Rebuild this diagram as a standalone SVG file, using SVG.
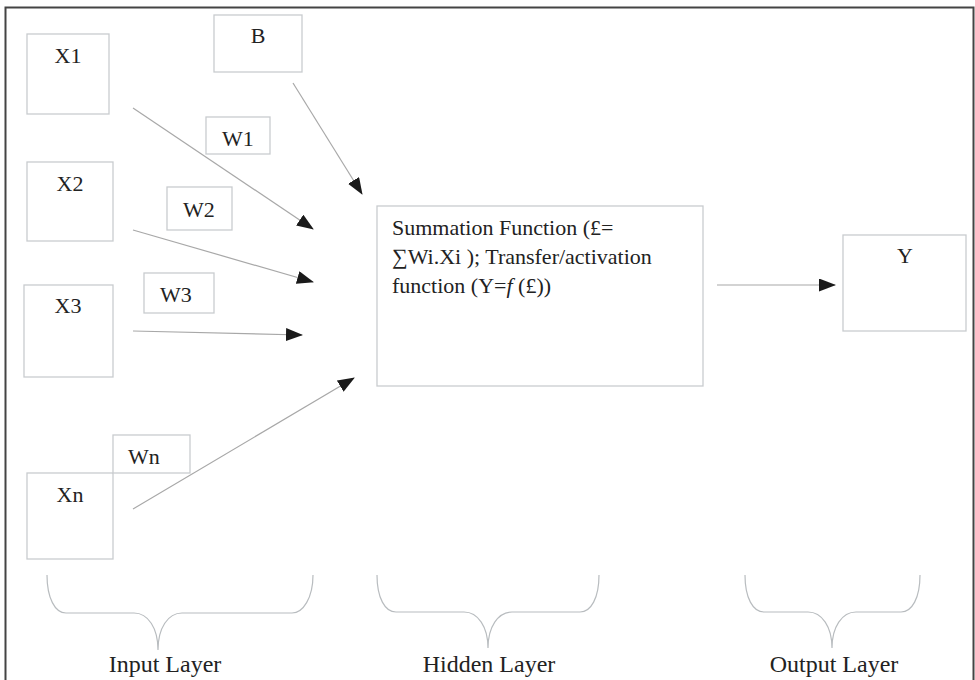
<svg xmlns="http://www.w3.org/2000/svg" width="975" height="680" viewBox="0 0 975 680">
<defs>
<marker id="ah" markerUnits="userSpaceOnUse" markerWidth="17" markerHeight="13" refX="16" refY="6.5" orient="auto">
<path d="M0,0 L17,6.5 L0,13 Z" fill="#1a1a1a"/>
</marker>
<style>
.box{fill:#fff;stroke:#c9cccf;stroke-width:1.3}
.t{fill:#222;font-size:22px}
.c{stroke:#a8a8a8;stroke-width:1.2;fill:none}
.br{stroke:#b8bcbf;stroke-width:1.2;fill:none}
.lab{fill:#222;font-size:24px;text-anchor:middle}
</style>
</defs>
<rect x="0" y="0" width="975" height="680" fill="#fff"/>
<rect x="5.5" y="7.5" width="968" height="690" fill="none" stroke="#444" stroke-width="2"/>

<g id="connectors">
<line class="c" x1="133" y1="108" x2="313" y2="229" marker-end="url(#ah)"/>
<line class="c" x1="293" y1="83" x2="362" y2="194" marker-end="url(#ah)"/>
<line class="c" x1="133" y1="230" x2="313" y2="282" marker-end="url(#ah)"/>
<line class="c" x1="133" y1="331" x2="302" y2="335" marker-end="url(#ah)"/>
<line class="c" x1="133" y1="509" x2="354" y2="378" marker-end="url(#ah)"/>
<line class="c" x1="717" y1="285" x2="835" y2="285" marker-end="url(#ah)"/>
</g>

<g font-family="'Liberation Serif', 'Times New Roman', 'DejaVu Serif', serif">
<g id="X1"><rect class="box" x="27" y="34" width="82" height="80"/><text class="t" x="68" y="63" text-anchor="middle">X1</text></g>
<g id="B"><rect class="box" x="214" y="15" width="88" height="57"/><text class="t" x="258" y="43" text-anchor="middle">B</text></g>
<g id="W1"><rect class="box" x="206" y="117" width="64" height="37"/><text class="t" x="238" y="146" text-anchor="middle">W1</text></g>
<g id="X2"><rect class="box" x="27" y="162" width="86" height="79"/><text class="t" x="70" y="191" text-anchor="middle">X2</text></g>
<g id="W2"><rect class="box" x="167" y="187" width="65" height="43"/><text class="t" x="199" y="217" text-anchor="middle">W2</text></g>
<g id="X3"><rect class="box" x="24" y="285" width="89" height="92"/><text class="t" x="68" y="313" text-anchor="middle">X3</text></g>
<g id="W3"><rect class="box" x="144" y="273" width="70" height="40"/><text class="t" x="176" y="302" text-anchor="middle">W3</text></g>
<g id="Xn"><rect class="box" x="27" y="473" width="86" height="86"/><text class="t" x="70" y="502" text-anchor="middle">Xn</text></g>
<g id="Wn"><rect class="box" x="113" y="435" width="77" height="38"/><text class="t" x="144" y="464" text-anchor="middle">Wn</text></g>

<g id="hidden">
<rect class="box" x="377" y="206" width="326" height="180"/>
<text class="t" x="392" y="235" font-size="22.5">Summation Function (£=</text>
<text class="t" x="392" y="264" font-size="22.5">∑Wi.Xi ); Transfer/activation</text>
<text class="t" x="392" y="293" font-size="22.5">function (Y=<tspan font-style="italic">f</tspan> (£))</text>
</g>

<g id="Y"><rect class="box" x="843" y="235" width="123" height="96"/><text class="t" x="905" y="263" text-anchor="middle">Y</text></g>

<g id="input-layer">
<path class="br" d="M47,575 C47,598 55,613 66,613 L134,613 C148,613 158,628 158,650 C158,628 168,613 182,613 L292,613 C303,613 313,598 313,575"/>
<text class="lab" x="165" y="672">Input Layer</text>
</g>
<g id="hidden-layer">
<path class="br" d="M377,575 C377,598 385,612 396,612 L464,612 C478,612 488,627 488,648 C488,627 498,612 512,612 L580,612 C591,612 599,598 599,575"/>
<text class="lab" x="489" y="672">Hidden Layer</text>
</g>
<g id="output-layer">
<path class="br" d="M745,575 C745,598 753,612 764,612 L808,612 C822,612 832,627 832,648 C832,627 842,612 856,612 L901,612 C912,612 920,598 920,575"/>
<text class="lab" x="834" y="672">Output Layer</text>
</g>
</g>
</svg>
